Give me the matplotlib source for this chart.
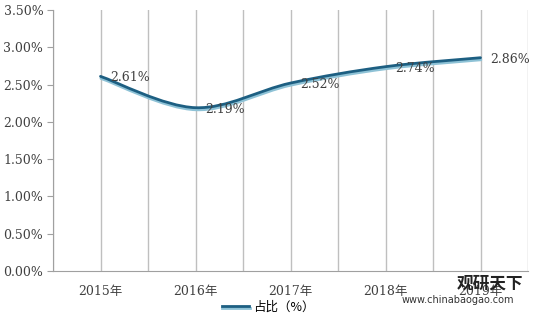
import matplotlib.pyplot as plt
import matplotlib.patheffects as pe
from matplotlib.path import Path
from matplotlib.patches import PathPatch
from matplotlib.lines import Line2D
import numpy as np

plt.rcParams['font.family'] = ['DejaVu Serif', 'Noto Sans CJK SC']

years = ['2015年', '2016年', '2017年', '2018年', '2019年']
share = [2.61, 2.19, 2.52, 2.74, 2.86]
labels = ['2.61%', '2.19%', '2.52%', '2.74%', '2.86%']
yticks = [0, 0.5, 1.0, 1.5, 2.0, 2.5, 3.0, 3.5]

fig = plt.figure(figsize=(5.49, 3.24), dpi=100)
ax = fig.add_axes([53 / 549, 53 / 324, 475 / 549, 261 / 324])

x = np.arange(len(share))
y = np.array(share)

# smooth line like Excel (Catmull-Rom -> bezier segments)
verts = [(x[0], y[0])]
codes = [Path.MOVETO]
n = len(x)
for i in range(n - 1):
    p0 = np.array([x[max(i - 1, 0)], y[max(i - 1, 0)]])
    p1 = np.array([x[i], y[i]])
    p2 = np.array([x[i + 1], y[i + 1]])
    p3 = np.array([x[min(i + 2, n - 1)], y[min(i + 2, n - 1)]])
    c1 = p1 + (p2 - p0) / 6
    c2 = p2 - (p3 - p1) / 6
    verts += [tuple(c1), tuple(c2), tuple(p2)]
    codes += [Path.CURVE4] * 3
shadow = [pe.SimpleLineShadow(offset=(0.3, -1.5), shadow_color='#8EC2D6', alpha=1.0), pe.Normal()]
curve = PathPatch(Path(verts, codes), facecolor='none', edgecolor='#1D5F82',
                  lw=2.0, zorder=3, capstyle='round', path_effects=shadow)
ax.add_patch(curve)

for xi, yi, lab in zip(x, y, labels):
    ax.annotate(lab, (xi, yi), xytext=(7, -1), textcoords='offset points',
                ha='left', va='center', fontsize=9, color='#404040', zorder=4)

ax.set_xlim(-0.5, 4.5)
ax.set_ylim(0, 3.5)
ax.set_yticks(yticks)
ax.set_yticklabels([f'{v:.2f}%' for v in yticks], fontsize=9, color='#404040')
ax.set_xticks(x)
ax.set_xticklabels(years, fontsize=9, color='#404040')
ax.set_xticks(np.arange(-0.5, 5.0, 0.5), minor=True)
ax.grid(True, which='both', axis='x', color='#BFBFBF', lw=1)
ax.set_axisbelow(True)
ax.tick_params(axis='x', which='both', length=0, pad=10)
ax.tick_params(axis='y', length=4, color='#A0A0A0', pad=3)
for s in ['top', 'right']:
    ax.spines[s].set_visible(False)
for s in ['left', 'bottom']:
    ax.spines[s].set_color('#A0A0A0')

# legend
h = Line2D([], [], color='#1D5F82', lw=2.0, path_effects=shadow)
fig.legend([h], ['占比（%）'], loc='center', bbox_to_anchor=(268 / 549, 1 - 307 / 324),
           frameon=False, handlelength=2.2, handletextpad=0.3,
           prop={'family': ['Noto Sans CJK SC'], 'size': 9})

# watermark
fig.text(490 / 549, 1 - 284 / 324, '观研天下', fontsize=12, fontweight='bold',
         family=['Noto Sans CJK SC'], color='#222222', ha='center', va='center')
fig.text(458 / 549, 1 - 300 / 324, 'www.chinabaogao.com', fontsize=7,
         family=['DejaVu Sans'], color='#333333', ha='center', va='center')

fig.savefig('out.png', dpi=100)
